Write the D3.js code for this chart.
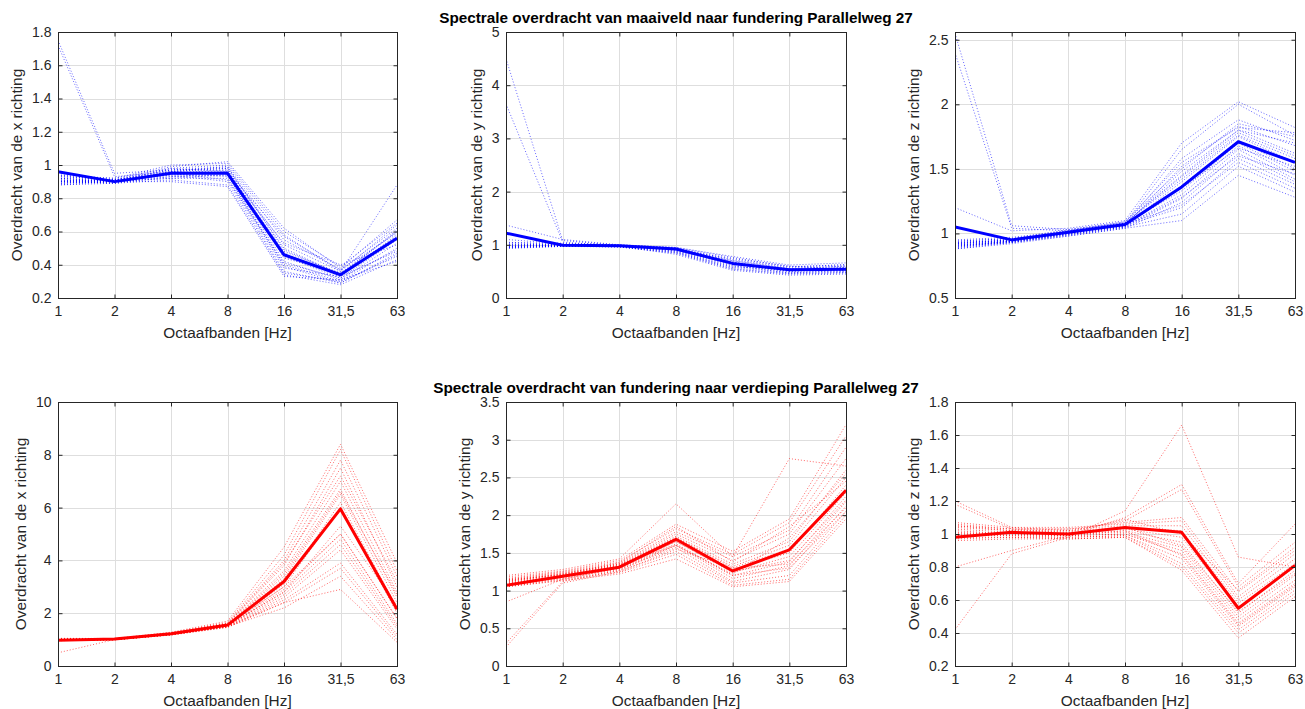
<!DOCTYPE html>
<html>
<head>
<meta charset="utf-8">
<script src="https://cdn.jsdelivr.net/npm/d3@7"></script>
<style>
  html, body { margin: 0; padding: 0; background: #fff; }
  svg { display: block; font-family: "Liberation Sans", Arial, Helvetica, sans-serif; }
</style>
</head>
<body>
<svg id="chart" width="1305" height="709"></svg>
<script>
// ---------------- DATA ----------------
const bands = ["1", "2", "4", "8", "16", "31,5", "63"];

const titleTop = "Spectrale overdracht van maaiveld naar fundering Parallelweg 27";
const titleBottom = "Spectrale overdracht van fundering naar verdieping Parallelweg 27";
const xLabel = "Octaafbanden [Hz]";
const yLabels = ["Overdracht van de x richting", "Overdracht van de y richting", "Overdracht van de z richting"];

// Top row: maaiveld -> fundering
const meanTopX = [0.96, 0.90, 0.95, 0.95, 0.46, 0.34, 0.56];
const runsTopX = [
  [1.75,0.95,0.97,0.98,0.52,0.36,0.88],
  [1.72,0.93,0.96,0.96,0.48,0.35,0.60],
  [0.95,0.91,0.99,1.02,0.62,0.38,0.67],
  [0.94,0.92,0.98,1.00,0.58,0.36,0.64],
  [0.93,0.91,0.97,0.99,0.55,0.37,0.62],
  [0.92,0.90,0.96,0.98,0.50,0.34,0.60],
  [0.92,0.91,0.95,0.97,0.47,0.33,0.58],
  [0.91,0.90,0.94,0.96,0.45,0.32,0.55],
  [0.91,0.90,0.96,0.95,0.42,0.31,0.53],
  [0.90,0.89,0.93,0.94,0.40,0.30,0.50],
  [0.90,0.91,0.95,0.93,0.38,0.33,0.48],
  [0.89,0.90,0.92,0.92,0.36,0.29,0.46],
  [0.89,0.90,0.94,0.90,0.35,0.30,0.45],
  [0.88,0.89,0.91,0.88,0.34,0.28,0.43],
  [0.88,0.90,0.90,0.87,0.33,0.31,0.42],
  [0.93,0.92,1.00,1.01,0.60,0.39,0.65],
  [0.90,0.91,0.97,0.97,0.44,0.35,0.57],
  [0.92,0.90,0.93,0.95,0.53,0.40,0.52],
  [0.91,0.89,0.95,0.91,0.41,0.32,0.49],
  [0.89,0.91,0.96,0.99,0.49,0.34,0.61],
  [0.94,0.90,0.92,0.94,0.39,0.29,0.47],
  [0.90,0.90,0.98,0.96,0.57,0.37,0.59]
];

const meanTopY = [1.22, 0.99, 0.98, 0.92, 0.65, 0.53, 0.54];
const runsTopY = [
  [4.50,1.08,0.99,0.90,0.70,0.55,0.60],
  [3.65,1.05,0.98,0.93,0.68,0.52,0.57],
  [1.37,1.10,1.00,0.95,0.78,0.62,0.66],
  [1.10,1.02,0.99,0.94,0.72,0.58,0.63],
  [1.05,1.00,0.98,0.93,0.70,0.56,0.60],
  [1.02,0.99,0.98,0.92,0.66,0.54,0.56],
  [1.00,0.98,0.97,0.90,0.63,0.52,0.53],
  [0.98,0.97,0.97,0.88,0.60,0.50,0.51],
  [0.97,0.98,0.96,0.86,0.57,0.48,0.49],
  [0.95,0.97,0.96,0.84,0.54,0.45,0.47],
  [0.94,0.98,0.97,0.82,0.52,0.43,0.45],
  [0.96,1.01,0.99,0.91,0.74,0.60,0.55],
  [0.99,0.99,0.98,0.89,0.64,0.50,0.58],
  [1.01,1.00,0.97,0.93,0.61,0.47,0.52],
  [0.93,0.97,0.98,0.87,0.58,0.55,0.50],
  [1.04,1.03,1.00,0.95,0.76,0.59,0.62],
  [0.97,0.99,0.97,0.91,0.67,0.51,0.54],
  [0.95,0.98,0.96,0.85,0.55,0.46,0.48]
];

const meanTopZ = [1.05, 0.95, 1.01, 1.07, 1.36, 1.71, 1.55];
const runsTopZ = [
  [2.55,1.06,1.03,1.08,1.45,1.80,1.70],
  [2.40,1.04,1.02,1.09,1.50,1.85,1.75],
  [1.20,1.02,1.04,1.10,1.70,2.02,1.82],
  [0.95,0.97,1.02,1.08,1.65,2.00,1.76],
  [0.94,0.96,1.01,1.07,1.58,1.88,1.72],
  [0.93,0.95,1.00,1.06,1.52,1.83,1.68],
  [0.93,0.94,1.01,1.07,1.48,1.80,1.62],
  [0.92,0.95,1.02,1.08,1.44,1.78,1.60],
  [0.92,0.94,1.00,1.06,1.40,1.75,1.55],
  [0.91,0.93,0.99,1.05,1.37,1.72,1.50],
  [0.91,0.94,1.01,1.07,1.33,1.70,1.48],
  [0.90,0.93,1.00,1.06,1.30,1.68,1.45],
  [0.90,0.94,0.99,1.05,1.27,1.65,1.42],
  [0.89,0.93,0.98,1.04,1.24,1.62,1.40],
  [0.89,0.94,1.00,1.06,1.20,1.58,1.38],
  [0.88,0.93,0.99,1.05,1.15,1.52,1.32],
  [0.88,0.92,0.98,1.04,1.10,1.45,1.28],
  [0.94,0.96,1.03,1.09,1.55,1.82,1.78],
  [0.92,0.95,1.01,1.07,1.35,1.66,1.52],
  [0.90,0.94,1.00,1.06,1.28,1.60,1.46],
  [0.93,0.95,1.02,1.08,1.42,1.76,1.58],
  [0.91,0.94,1.01,1.07,1.22,1.55,1.35]
];

// Bottom row: fundering -> verdieping
const meanBotX = [0.98, 1.02, 1.22, 1.55, 3.20, 5.95, 2.15];
const runsBotX = [
  [0.50,1.00,1.20,1.55,3.0,5.0,1.8],
  [1.05,1.04,1.28,1.70,4.5,8.4,3.9],
  [1.03,1.03,1.26,1.65,4.2,8.2,3.6],
  [1.02,1.02,1.25,1.62,4.0,7.8,3.4],
  [1.01,1.02,1.24,1.60,3.8,7.5,3.0],
  [1.00,1.01,1.23,1.58,3.6,7.0,2.8],
  [0.99,1.01,1.22,1.56,3.5,6.7,2.6],
  [0.98,1.00,1.21,1.55,3.3,6.5,2.4],
  [0.97,1.00,1.20,1.53,3.1,6.2,2.2],
  [0.96,0.99,1.19,1.52,3.0,6.0,2.0],
  [0.96,1.00,1.18,1.50,2.9,5.0,1.8],
  [1.00,1.01,1.21,1.52,2.8,4.8,1.6],
  [1.02,1.00,1.19,1.50,2.7,4.6,1.5],
  [0.99,1.01,1.20,1.48,2.6,4.4,1.4],
  [0.97,0.99,1.18,1.47,2.5,3.9,1.2],
  [1.00,1.00,1.17,1.46,2.4,3.7,1.1],
  [0.98,1.00,1.19,1.49,2.2,3.4,1.0],
  [1.01,1.01,1.21,1.51,2.4,2.9,0.9],
  [1.03,1.02,1.24,1.60,3.9,7.2,3.2],
  [0.99,1.01,1.22,1.57,3.4,6.6,2.7],
  [0.97,1.00,1.20,1.54,2.8,5.3,2.3]
];

const meanBotY = [1.07, 1.19, 1.31, 1.68, 1.26, 1.54, 2.33];
const runsBotY = [
  [0.25,1.10,1.25,1.55,1.30,1.35,2.10],
  [0.30,1.12,1.27,1.60,1.20,1.30,2.05],
  [0.85,1.15,1.30,1.65,1.25,1.40,2.20],
  [1.20,1.28,1.42,2.15,1.45,2.75,2.65],
  [1.18,1.26,1.40,1.88,1.52,1.95,3.20],
  [1.16,1.25,1.38,1.82,1.48,1.90,3.05],
  [1.15,1.24,1.36,1.78,1.45,1.80,2.90],
  [1.14,1.23,1.35,1.75,1.40,1.75,2.75],
  [1.13,1.22,1.34,1.72,1.35,1.65,2.60],
  [1.12,1.21,1.33,1.70,1.32,1.60,2.50],
  [1.11,1.20,1.32,1.68,1.28,1.50,2.40],
  [1.10,1.19,1.31,1.65,1.24,1.45,2.30],
  [1.09,1.18,1.30,1.62,1.20,1.38,2.25],
  [1.08,1.17,1.29,1.60,1.16,1.33,2.18],
  [1.07,1.16,1.28,1.57,1.12,1.28,2.12],
  [1.06,1.15,1.26,1.52,1.10,1.20,2.05],
  [1.05,1.14,1.24,1.48,1.07,1.15,2.00],
  [1.05,1.13,1.22,1.42,1.05,1.12,1.95],
  [1.12,1.22,1.37,1.85,1.38,1.85,2.45],
  [1.09,1.20,1.33,1.70,1.30,1.55,2.35],
  [1.14,1.21,1.35,1.60,1.22,1.70,2.55]
];

const meanBotZ = [0.98, 1.01, 1.00, 1.04, 1.01, 0.55, 0.81];
const runsBotZ = [
  [0.42,0.88,0.98,1.14,1.66,0.86,0.80],
  [0.80,0.90,0.99,1.10,1.30,0.70,1.06],
  [1.20,1.04,1.02,1.08,1.27,0.68,0.95],
  [1.18,1.03,1.03,1.07,1.10,0.65,0.90],
  [1.07,1.04,1.04,1.06,1.08,0.62,0.88],
  [1.06,1.03,1.03,1.05,1.05,0.60,0.85],
  [1.05,1.02,1.02,1.04,1.02,0.58,0.82],
  [1.04,1.02,1.01,1.03,0.98,0.55,0.80],
  [1.03,1.01,1.00,1.02,0.95,0.52,0.78],
  [1.02,1.00,1.00,1.01,0.92,0.50,0.75],
  [1.01,1.00,0.99,1.00,0.90,0.48,0.72],
  [1.00,0.99,0.99,1.00,0.88,0.46,0.70],
  [0.99,0.99,0.98,0.99,0.85,0.44,0.68],
  [0.98,0.98,0.98,0.99,0.82,0.42,0.66],
  [0.97,0.98,0.97,0.98,0.80,0.40,0.64],
  [0.96,0.97,0.97,0.98,0.78,0.37,0.62],
  [1.05,1.03,1.01,1.09,1.00,0.66,0.92],
  [1.00,1.01,1.00,1.04,0.93,0.53,0.76],
  [0.99,1.00,0.99,1.02,0.87,0.45,0.69]
];

// Y-axis ranges and ticks per panel
const yDomains = [[0.2, 1.8], [0, 5], [0.5, 2.56], [0, 10], [0, 3.5], [0.2, 1.8]];
const yTicks = [
  [0.2, 0.4, 0.6, 0.8, 1, 1.2, 1.4, 1.6, 1.8],
  [0, 1, 2, 3, 4, 5],
  [0.5, 1, 1.5, 2, 2.5],
  [0, 2, 4, 6, 8, 10],
  [0, 0.5, 1, 1.5, 2, 2.5, 3, 3.5],
  [0.2, 0.4, 0.6, 0.8, 1, 1.2, 1.4, 1.6, 1.8]
];

// ---------------- LAYOUT ----------------
const colX = [[58, 397], [506, 846], [955, 1295]];
const rowY = [[32, 298], [402, 666]];
const rowColor = ["#0000ff", "#ff0000"];

const panels = [
  { row: 0, col: 0, mean: meanTopX, runs: runsTopX },
  { row: 0, col: 1, mean: meanTopY, runs: runsTopY },
  { row: 0, col: 2, mean: meanTopZ, runs: runsTopZ },
  { row: 1, col: 0, mean: meanBotX, runs: runsBotX },
  { row: 1, col: 1, mean: meanBotY, runs: runsBotY },
  { row: 1, col: 2, mean: meanBotZ, runs: runsBotZ }
];

const svg = d3.select("#chart");
const axisColor = "#262626";
const gridColor = "#dedede";
const fmt = v => String(+v.toFixed(2));

panels.forEach((p, i) => {
  const [x0, x1] = colX[p.col];
  const [y0, y1] = rowY[p.row];
  const color = rowColor[p.row];
  const x = d3.scalePoint().domain(bands).range([x0, x1]);
  const y = d3.scaleLinear().domain(yDomains[i]).range([y1, y0]);
  const g = svg.append("g");

  // grid
  g.append("g").selectAll("line").data(bands.slice(1, -1)).join("line")
    .attr("x1", d => Math.round(x(d)) + 0.5).attr("x2", d => Math.round(x(d)) + 0.5)
    .attr("y1", y0).attr("y2", y1)
    .attr("stroke", gridColor).attr("stroke-width", 1);
  g.append("g").selectAll("line").data(yTicks[i]).join("line")
    .attr("x1", x0).attr("x2", x1)
    .attr("y1", d => Math.round(y(d)) + 0.5).attr("y2", d => Math.round(y(d)) + 0.5)
    .attr("stroke", gridColor).attr("stroke-width", 1);

  // data
  const line = d3.line().x((d, k) => x(bands[k])).y(d => y(d));
  const clipId = "clip" + i;
  svg.append("clipPath").attr("id", clipId).append("rect")
    .attr("x", x0).attr("y", y0 - 2).attr("width", x1 - x0 + 2).attr("height", y1 - y0 + 4);
  const dg = g.append("g").attr("clip-path", `url(#${clipId})`);
  dg.selectAll("path.run").data(p.runs).join("path")
    .attr("class", "run")
    .attr("d", line)
    .attr("fill", "none")
    .attr("stroke", color)
    .attr("stroke-opacity", 0.6)
    .attr("stroke-width", 1)
    .attr("stroke-dasharray", "1,2");
  dg.append("path").datum(p.mean)
    .attr("d", line)
    .attr("fill", "none")
    .attr("stroke", color)
    .attr("stroke-width", 3)
    .attr("stroke-linejoin", "round");

  // box
  g.append("rect")
    .attr("x", x0 + 0.5).attr("y", y0 + 0.5)
    .attr("width", x1 - x0).attr("height", y1 - y0)
    .attr("fill", "none").attr("stroke", axisColor).attr("stroke-width", 1);

  // axes (ticks inside)
  const tl = 4;
  const xa = d3.axisBottom(x).tickSize(-tl).tickPadding(8);
  const xg = g.append("g").attr("transform", `translate(0,${y1 + 0.5})`).call(xa);
  const xaTop = d3.axisTop(x).tickSize(-tl).tickFormat("");
  const xgt = g.append("g").attr("transform", `translate(0,${y0 + 0.5})`).call(xaTop);
  const ya = d3.axisLeft(y).tickValues(yTicks[i]).tickFormat(fmt).tickSize(-tl).tickPadding(7);
  const yg = g.append("g").attr("transform", `translate(${x0 + 0.5},0)`).call(ya);
  const yaR = d3.axisRight(y).tickValues(yTicks[i]).tickFormat("").tickSize(-tl);
  const ygr = g.append("g").attr("transform", `translate(${x1 + 0.5},0)`).call(yaR);
  [xg, xgt, yg, ygr].forEach(a => {
    a.select(".domain").remove();
    a.selectAll(".tick line").attr("stroke", axisColor);
    a.selectAll("text").attr("fill", axisColor).style("font-size", "14px")
      .style("font-family", '"Liberation Sans", Arial, sans-serif');
  });

  // tick label width for y-label placement
  let maxW = 0;
  yg.selectAll("text").each(function () { maxW = Math.max(maxW, this.getBBox().width); });

  // x label
  g.append("text")
    .attr("x", (x0 + x1) / 2).attr("y", y1 + 40)
    .attr("text-anchor", "middle")
    .attr("fill", axisColor)
    .style("font-size", "15.4px")
    .text(xLabel);

  // y label
  const ly = x0 - 7 - maxW - 13;
  g.append("text")
    .attr("transform", `translate(${ly},${(y0 + y1) / 2}) rotate(-90)`)
    .attr("text-anchor", "middle")
    .attr("dominant-baseline", "middle")
    .attr("fill", axisColor)
    .style("font-size", "15.4px")
    .text(yLabels[p.col]);

  // title on middle panel
  if (p.col === 1) {
    g.append("text")
      .attr("x", (x0 + x1) / 2).attr("y", y0 - 9)
      .attr("text-anchor", "middle")
      .attr("fill", "#000")
      .style("font-size", "15.3px")
      .style("font-weight", "bold")
      .text(p.row === 0 ? titleTop : titleBottom);
  }
});
</script>
</body>
</html>
